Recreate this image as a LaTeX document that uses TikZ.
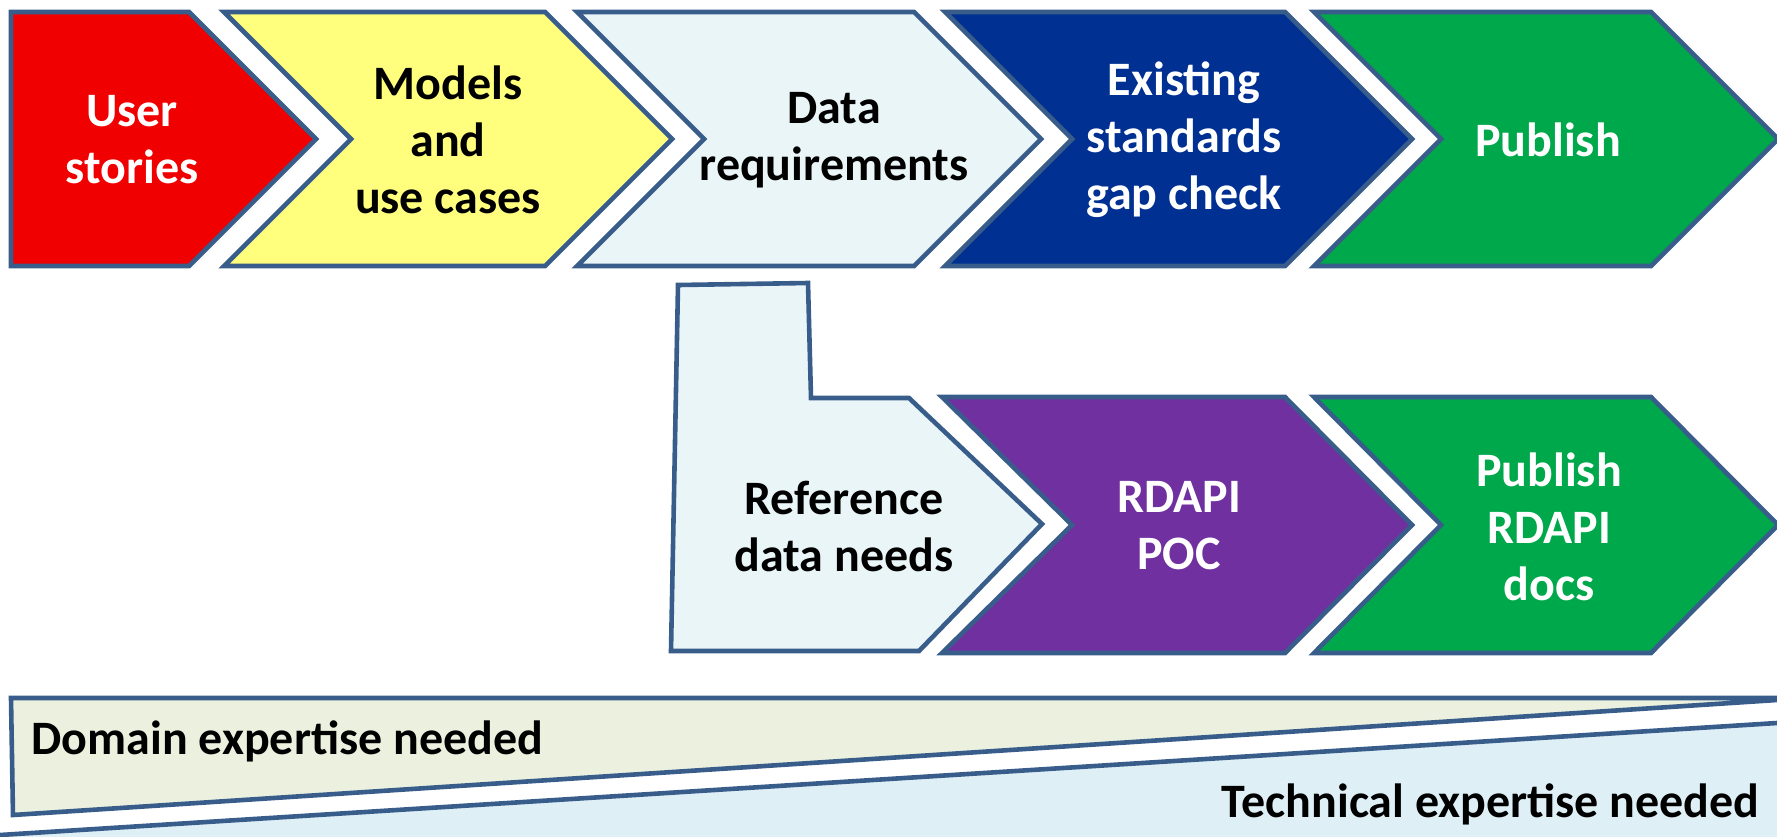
\documentclass[tikz,border=0pt]{standalone}
\usepackage{fontspec}
\setmainfont{Carlito}
\usepackage{tikz}

\definecolor{edgeblue}{RGB}{56,93,138}
\definecolor{stepred}{RGB}{240,0,0}
\definecolor{stepyellow}{RGB}{255,255,125}
\definecolor{steppale}{RGB}{234,245,248}
\definecolor{stepnavy}{RGB}{0,48,146}
\definecolor{stepgreen}{RGB}{0,168,76}
\definecolor{steppurple}{RGB}{112,48,160}
\definecolor{domainfill}{RGB}{235,241,222}
\definecolor{techfill}{RGB}{222,239,245}

\begin{document}
\begin{tikzpicture}[x=0.5pt,y=-0.5pt,
	chev/.style={draw=edgeblue,line width=2.3pt,line join=miter},
	chevtext/.style={font=\fontsize{24}{28.5}\selectfont\bfseries,align=center}]
	\useasboundingbox (0,0) rectangle (1777,836);

	% expertise bands
	\fill[techfill] (11,834) -- (1777,723) -- (1777,850) -- (11,850) -- cycle;
	\draw[edgeblue,line width=2.3pt] (0,835) -- (1777,723);
	\draw[chev,fill=domainfill] (11,698) -- (1777,698) -- (1777,700) -- (13,815) -- cycle;
	\node[chevtext,inner sep=0pt,anchor=base west] (domain) at (31,754) {Domain expertise needed};
	\node[chevtext,inner sep=0pt,anchor=base east] (technical) at (1760,817) {Technical expertise needed};

	% top row
	\draw[chev,fill=stepred] (11,12) -- (189,12) -- (316,139) -- (189,266) -- (11,266) -- cycle;
	\draw[chev,fill=stepyellow] (224,12) -- (545,12) -- (672,139) -- (545,266) -- (224,266) -- (351,139) -- cycle;
	\draw[chev,fill=steppale] (577,12) -- (914,12) -- (1041,139) -- (914,266) -- (577,266) -- (704,139) -- cycle;
	\draw[chev,fill=stepnavy] (945,12) -- (1285,12) -- (1412,139) -- (1285,266) -- (945,266) -- (1072,139) -- cycle;
	\draw[chev,fill=stepgreen] (1314,12) -- (1651,12) -- (1778,139) -- (1651,266) -- (1314,266) -- (1441,139) -- cycle;

	\node[chevtext,text=white] (stories) at (132,140) {User\\stories};
	\node[chevtext] (models) at (448,140) {Models\\and\\use cases};
	\node[chevtext] (datareq) at (834,140) {Data\\requirements};
	\node[chevtext,text=white] (gapcheck) at (1184,140) {Existing\\standards\\gap check};
	\node[chevtext,text=white] (publish) at (1548,140) {Publish};

	% bottom row
	\draw[chev,fill=steppale] (678,285) -- (808,283) -- (811,398) -- (909,398) -- (1042,524) -- (919,651) -- (671,651) -- cycle;
	\draw[chev,fill=steppurple] (942,397) -- (1285,397) -- (1412,525) -- (1285,653) -- (942,653) -- (1072,525) -- cycle;
	\draw[chev,fill=stepgreen] (1314,397) -- (1651,397) -- (1778,525) -- (1651,653) -- (1314,653) -- (1441,525) -- cycle;

	\node[chevtext] (refdata) at (844,526) {Reference\\data needs};
	\node[chevtext,text=white] (poc) at (1179,526) {RDAPI\\POC};
	\node[chevtext,text=white] (docs) at (1549,527) {Publish\\RDAPI\\docs};
\end{tikzpicture}
\end{document}
